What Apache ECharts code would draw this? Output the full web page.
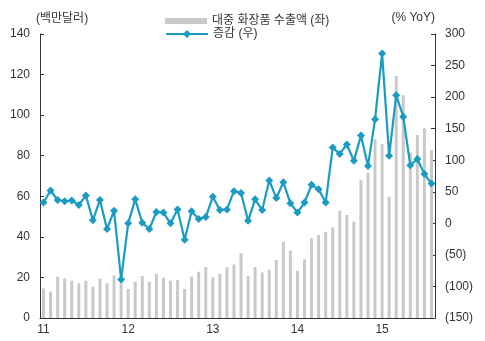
<!DOCTYPE html>
<html><head><meta charset="utf-8">
<script src="https://cdn.jsdelivr.net/npm/echarts@6/dist/echarts.min.js"></script>
<style>html,body{margin:0;padding:0;background:#fff}#c{width:485px;height:341px}</style>
</head><body><div id="c"></div>
<script>
// categories: Jan 2011 .. Aug 2015 (monthly)
const years = ['11','12','13','14','15'];
const categories = [];
for (const y of years) for (let m = 1; m <= 12; m++) { if (y === '15' && m > 8) break; categories.push(y + '-' + (m < 10 ? '0' + m : m)); }

const exportValues = [
  14.6, 13.0, 20.4, 19.5, 18.4, 17.1, 18.4, 15.4, 19.4, 17.1, 21.0, 20.4,
  14.3, 17.9, 20.7, 17.9, 21.7, 19.9, 18.4, 18.7, 14.3, 20.4, 22.8, 25.1,
  20.0, 21.7, 25.0, 26.4, 31.9, 20.7, 25.1, 22.5, 23.8, 28.6, 37.6, 33.2,
  23.3, 28.9, 39.3, 40.9, 42.5, 44.7, 52.9, 50.8, 47.5, 68.0, 71.6, 88.1,
  85.8, 59.8, 119.3, 109.9, 81.5, 90.2, 93.5, 82.8
];
const yoyValues = [
  33, 52, 37, 35, 36, 29, 44, 5, 37, -9, 20, -89,
  0, 38, 1, -9, 18, 17, 0, 22, -26, 19, 7, 10,
  42, 21, 22, 51, 48, 4, 38, 21, 68, 40, 65, 32,
  17, 33, 61, 54, 33, 120, 110, 125, 99, 139, 91, 165,
  269, 107, 203, 169, 92, 102, 78, 63
];
const seriesNames = ['대중 화장품 수출액 (좌)', '증감 (우)'];
const leftAxisName = '(백만달러)';
const rightAxisName = '(% YoY)';

const font = 'Liberation Sans, Arial, "Noto Sans CJK KR", sans-serif';
const txt = '#333';
const chart = echarts.init(document.getElementById('c'), null, {renderer: 'canvas'});
chart.setOption({
  animation: false,
  textStyle: {fontFamily: font},
  grid: {left: 40, right: 50, top: 34, bottom: 23},
  legend: [
    {data: [seriesNames[0]], left: 160, top: 10, orient: 'vertical', icon: 'rect', itemWidth: 42, itemHeight: 6,
     textStyle: {fontSize: 12, color: txt, fontFamily: font}},
    {data: [seriesNames[1]], left: 160, top: 23, orient: 'vertical', itemWidth: 42, itemHeight: 10,
     textStyle: {fontSize: 12, color: txt, fontFamily: font}}
  ],
  xAxis: {
    type: 'category', data: categories, boundaryGap: true,
    axisLine: {lineStyle: {color: '#333'}},
    axisTick: {inside: true, length: 4, interval: (i) => i % 6 === 0, lineStyle: {color: '#333'}},
    axisLabel: {interval: (i) => i % 12 === 0, formatter: (v) => v.slice(0, 2), color: txt, fontSize: 12, margin: 6}
  },
  yAxis: [
    {type: 'value', min: 0, max: 140, interval: 20, position: 'left',
     name: leftAxisName, nameLocation: 'end', nameGap: 9,
     nameTextStyle: {align: 'left', color: txt, fontSize: 12, padding: [0, 0, 0, -4]},
     axisLine: {show: true, lineStyle: {color: '#333'}},
     axisTick: {show: true, inside: true, length: 4, lineStyle: {color: '#333'}},
     axisLabel: {color: txt, fontSize: 12, margin: 10},
     splitLine: {show: false}},
    {type: 'value', min: -150, max: 300, interval: 50, position: 'right',
     name: rightAxisName, nameLocation: 'end', nameGap: 10,
     nameTextStyle: {align: 'right', color: txt, fontSize: 12},
     axisLine: {show: true, lineStyle: {color: '#333'}},
     axisTick: {show: true, inside: true, length: 4, lineStyle: {color: '#333'}},
     axisLabel: {color: txt, fontSize: 12, margin: 10, formatter: (v) => v < 0 ? '(' + (-v) + ')' : String(v)},
     splitLine: {show: false}}
  ],
  series: [
    {name: seriesNames[0], type: 'bar', yAxisIndex: 0, data: exportValues, barWidth: 3,
     itemStyle: {color: '#c9c9c9'}},
    {name: seriesNames[1], type: 'line', yAxisIndex: 1, data: yoyValues,
     symbol: 'diamond', symbolSize: 8, showSymbol: true, showAllSymbol: true,
     lineStyle: {color: '#1b9bc2', width: 2.2}, itemStyle: {color: '#1b9bc2'}}
  ]
});
</script></body></html>
